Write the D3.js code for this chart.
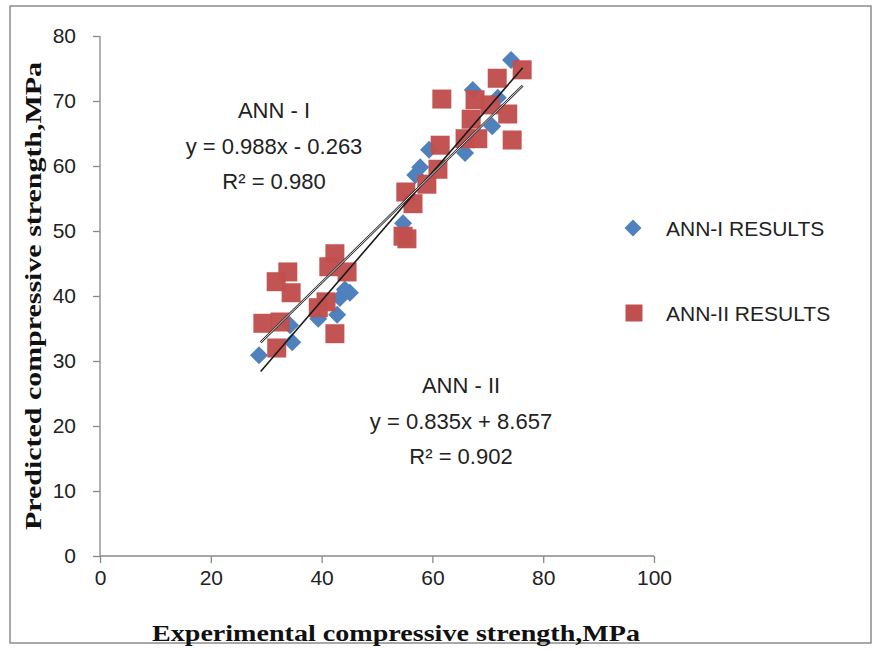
<!doctype html>
<html lang="en">
<head>
  <meta charset="utf-8">
  <script src="https://d3js.org/d3.v7.min.js"></script>
  <style>
    body { margin: 0; background: #fff; }
    text { font-family: "Liberation Sans", Arial, sans-serif; fill: #222; }
    .ttl { font-family: "Liberation Serif", "Times New Roman", serif; font-weight: bold; fill: #111; }
  </style>
</head>
<body>
<svg id="chart" width="881" height="650"></svg>
<script>
// ANN-I results (blue diamonds)
var ann1X = [28.7, 34.3, 34.7, 39.4, 42.8, 43.3, 44.2, 45.1, 54.7, 56.9, 57.8, 59.4, 65.9, 67.3, 70.8, 71.8, 74.2];
var ann1Y = [30.9, 35.5, 32.9, 36.5, 37.1, 39.7, 41.0, 40.5, 51.2, 58.6, 59.8, 62.5, 62.0, 71.7, 66.1, 70.5, 76.3];
// ANN-II results (red squares)
var ann2X = [29.4, 32.5, 31.9, 31.8, 33.9, 34.5, 39.4, 40.8, 42.4, 42.4, 41.3, 44.6,
             54.7, 55.4, 55.2, 56.5, 59.0, 61.0, 61.4, 61.7, 65.9, 68.2, 67.0, 67.7, 70.4, 73.6, 74.4, 71.7, 76.2];
var ann2Y = [35.8, 36.0, 32.0, 42.2, 43.7, 40.5, 38.2, 39.1, 34.2, 46.5, 44.5, 43.7,
             49.2, 48.8, 56.0, 54.2, 57.2, 59.5, 63.2, 70.3, 64.2, 64.2, 67.2, 70.2, 69.4, 68.0, 64.0, 73.5, 74.8];
// linear fits [slope, intercept] and the x range they are drawn over
var fit1 = [0.988, -0.263];
var fit2 = [0.835, 8.657];
var fitRange = [29, 76.3];
var xTicks = [0, 20, 40, 60, 80, 100];
var yTicks = [0, 10, 20, 30, 40, 50, 60, 70, 80];
var seriesNames = ["ANN-I RESULTS", "ANN-II RESULTS"];

var blue = "#4F81BD", red = "#C0504D";

var svg = d3.select("#chart");

// outer frame
svg.append("rect").attr("x", 10).attr("y", 6).attr("width", 861).attr("height", 637)
  .attr("fill", "none").attr("stroke", "#8c8c8c").attr("stroke-width", 1.5);

var x = d3.scaleLinear().domain([0, 100]).range([100, 654]);
var y = d3.scaleLinear().domain([0, 80]).range([556, 36]);

// axes
var gx = svg.append("g").attr("transform", "translate(0,556)")
  .call(d3.axisBottom(x).tickValues(xTicks).tickSize(7).tickPadding(7));
var gy = svg.append("g").attr("transform", "translate(100,0)")
  .call(d3.axisLeft(y).tickValues(yTicks).tickSize(7).tickPadding(17));
[gx, gy].forEach(function(g) {
  g.select(".domain").attr("stroke", "#888").attr("stroke-width", 1.3);
  g.selectAll(".tick line").attr("stroke", "#888").attr("stroke-width", 1.3);
  g.selectAll(".tick text").style("font-size", "21px").style("font-family", "Liberation Sans, Arial, sans-serif").attr("fill", "#222");
});
gx.select(".domain").attr("d", "M100,0H654");
gy.select(".domain").attr("d", "M0,556V36");

// points
var diamond = d3.symbol(d3.symbolSquare, 162);
var square = d3.symbol(d3.symbolSquare, 361);

svg.append("g").selectAll("path").data(d3.range(ann1X.length)).enter().append("path")
  .attr("d", diamond)
  .attr("transform", function(i) { return "translate(" + x(ann1X[i]) + "," + y(ann1Y[i]) + ") rotate(45)"; })
  .attr("fill", blue);

svg.append("g").selectAll("path").data(d3.range(ann2X.length)).enter().append("path")
  .attr("d", square)
  .attr("transform", function(i) { return "translate(" + x(ann2X[i]) + "," + y(ann2Y[i]) + ")"; })
  .attr("fill", red).attr("fill-opacity", 0.97);

// trend lines
var line = d3.line().x(function(d) { return x(d[0]); }).y(function(d) { return y(d[1]); });
function fitPts(f) { return fitRange.map(function(v) { return [v, f[0] * v + f[1]]; }); }

svg.append("path").attr("d", line(fitPts(fit1)))
  .attr("stroke", "#1a1a1a").attr("stroke-width", 1.6).attr("fill", "none");
svg.append("path").attr("d", line(fitPts(fit2)))
  .attr("stroke", "#333").attr("stroke-width", 2.4).attr("fill", "none");
svg.append("path").attr("d", line(fitPts(fit2)))
  .attr("stroke", "#fff").attr("stroke-width", 0.8).attr("fill", "none");

// equation labels
function eqLabel(cx, cy, name, f, r2) {
  var g = svg.append("g").attr("text-anchor", "middle").style("font-size", "22px");
  g.append("text").attr("x", cx).attr("y", cy).text(name);
  var sign = f[1] < 0 ? " - " : " + ";
  g.append("text").attr("x", cx).attr("y", cy + 36)
    .text("y = " + f[0].toFixed(3) + "x" + sign + Math.abs(f[1]).toFixed(3));
  g.append("text").attr("x", cx).attr("y", cy + 71).text("R\u00B2 = " + r2.toFixed(3));
}
eqLabel(274, 118, "ANN - I", fit1, 0.980);
eqLabel(461, 393, "ANN - II", fit2, 0.902);

// legend
var leg = svg.append("g").style("font-size", "21px");
leg.append("path").attr("d", d3.symbol(d3.symbolSquare, 145))
  .attr("transform", "translate(633,228) rotate(45)").attr("fill", blue);
leg.append("text").attr("x", 666).attr("y", 236).text(seriesNames[0]);
leg.append("path").attr("d", d3.symbol(d3.symbolSquare, 289))
  .attr("transform", "translate(634,313)").attr("fill", red);
leg.append("text").attr("x", 666).attr("y", 321).text(seriesNames[1]);

// axis titles
svg.append("text").attr("class", "ttl").attr("x", 396).attr("y", 641)
  .attr("text-anchor", "middle").style("font-size", "24px")
  .attr("textLength", 488).attr("lengthAdjust", "spacingAndGlyphs")
  .text("Experimental compressive strength,MPa");
svg.append("text").attr("class", "ttl")
  .attr("transform", "translate(41,296) rotate(-90)")
  .attr("text-anchor", "middle").style("font-size", "24px")
  .attr("textLength", 468).attr("lengthAdjust", "spacingAndGlyphs")
  .text("Predicted compressive strength,MPa");
</script>
</body>
</html>
